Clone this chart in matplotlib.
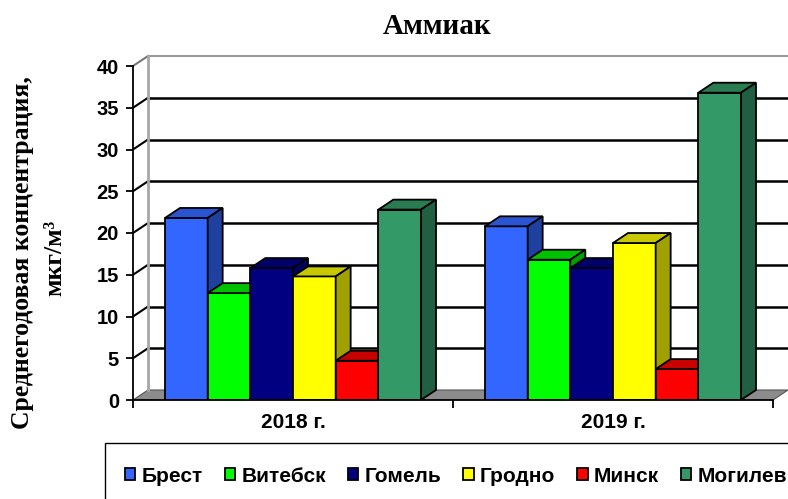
import matplotlib
matplotlib.use("Agg")
import matplotlib.pyplot as plt
from matplotlib.patches import Polygon, Patch, Rectangle

# data
years = ["2018 г.", "2019 г."]
cities = ["Брест", "Витебск", "Гомель", "Гродно", "Минск", "Могилев"]
brest = [21.8, 20.8]
vitebsk = [12.8, 16.8]
gomel = [15.8, 15.8]
grodno = [14.8, 18.8]
minsk = [4.7, 3.7]
mogilev = [22.8, 36.8]
series = [brest, vitebsk, gomel, grodno, minsk, mogilev]
yticks = [0, 5, 10, 15, 20, 25, 30, 35, 40]

# front / top / side colours per city
front = ["#3366FF", "#00FF00", "#000080", "#FFFF00", "#FF0000", "#339966"]
top = ["#2B55D0", "#00C000", "#000068", "#C8C800", "#C80000", "#2A7A52"]
side = ["#2040A0", "#00A000", "#000060", "#A0A000", "#A00000", "#206040"]

plt.rcParams['font.family'] = ['Liberation Sans', 'DejaVu Sans']
plt.rcParams['font.weight'] = 'bold'

fig = plt.figure(figsize=(7.88, 4.99), dpi=100)
W, H = 788, 499
# front plane: x 0..2 -> 133..773 px, y 0..40 -> 400..66 px
xpx = 320.0
ypx = 334.0 / 40
dx = 15 / xpx
dy = 10 / ypx
xmax = 2.05
ymax = 41.4
ax = fig.add_axes([133 / W, (H - 400) / H, xmax * xpx / W, ymax * ypx / H])
ax.set_xlim(0, xmax)
ax.set_ylim(0, ymax)
ax.patch.set_alpha(0)

# floor
ax.add_patch(Polygon([(0, 0), (2, 0), (2 + dx, dy), (dx, dy)], closed=True,
                     facecolor="#8C8C8C", edgecolor="#555555", lw=0.8, zorder=1))
# walls and gridlines
for v in yticks[1:-1]:
    ax.plot([dx, 2 + dx], [v + dy, v + dy], color="black", lw=1.8, zorder=1)
    ax.plot([0, dx], [v, v + dy], color="black", lw=1.5, zorder=1)
ax.plot([dx, 2 + dx], [40 + dy, 40 + dy], color="#9A9A9A", lw=1.5, zorder=1)
ax.plot([0, dx], [40, 40 + dy], color="#777777", lw=1.5, zorder=1)
ax.plot([dx, dx], [dy, 40 + dy], color="#A8A8A8", lw=2, zorder=1)

# 3d-ish bars
w = 0.8 / len(cities)
z = 2
for c in range(len(years)):
    for i, vals in enumerate(series):
        x = c + 0.1 + i * w
        v = vals[c]
        ax.bar(x, v, w, align="edge", color=front[i], edgecolor="black",
               linewidth=1.3, zorder=z)
        ax.add_patch(Polygon([(x, v), (x + w, v), (x + w + dx, v + dy), (x + dx, v + dy)],
                             closed=True, facecolor=top[i], edgecolor="black",
                             lw=1.3, zorder=z + 0.1))
        ax.add_patch(Polygon([(x + w, 0), (x + w + dx, dy), (x + w + dx, v + dy), (x + w, v)],
                             closed=True, facecolor=side[i], edgecolor="black",
                             lw=1.3, zorder=z + 0.2))
        z += 1

for s in ["top", "right"]:
    ax.spines[s].set_visible(False)
ax.spines["left"].set_bounds(0, 40)
ax.spines["bottom"].set_bounds(0, 2)
ax.spines["left"].set_linewidth(1.3)
ax.spines["bottom"].set_linewidth(1.3)
ax.spines["left"].set_zorder(50)
ax.spines["bottom"].set_zorder(50)

ax.set_yticks(yticks)
ax.set_yticklabels([str(t) for t in yticks], fontsize=14.5, fontweight="bold")
ax.tick_params(axis="y", length=5, width=1.3, pad=5)
ax.set_xticks([0.5, 1.5])
ax.set_xticklabels(years, fontsize=15, fontweight="bold")
ax.tick_params(axis="x", which="major", length=0, pad=9)
ax.set_xticks([0, 1, 2], minor=True)
ax.tick_params(axis="x", which="minor", length=6, width=1.3)

fig.text(437 / W, 1 - 26 / H, "Аммиак", ha="center", va="center",
         fontsize=21, fontweight="bold", family="Liberation Serif")
fig.text(23 / W, 1 - 253 / H, "Среднегодовая концентрация,", rotation=90,
         ha="center", va="center", fontsize=18.5, fontweight="bold", family="Liberation Serif")
fig.text(55 / W, 1 - 258 / H, "мкг/м³", rotation=90,
         ha="center", va="center", fontsize=18.5, fontweight="bold", family="Liberation Serif")

# legend
handles = [Patch(facecolor=front[i], edgecolor="black", linewidth=1.3) for i in range(len(cities))]
fig.legend(handles, cities, ncol=6, loc="center left",
           bbox_to_anchor=(125 / W, 1 - 476 / H), frameon=False,
           prop={"size": 15, "weight": "bold"}, handlelength=0.5, handleheight=0.5,
           handletextpad=0.3, columnspacing=1.05, borderpad=0, borderaxespad=0)
fig.add_artist(Rectangle((105 / W, -0.1), 1.0, 0.1 + (H - 443) / H,
                         transform=fig.transFigure, fill=False, edgecolor="black", lw=1))

fig.savefig("out.png", dpi=100)
